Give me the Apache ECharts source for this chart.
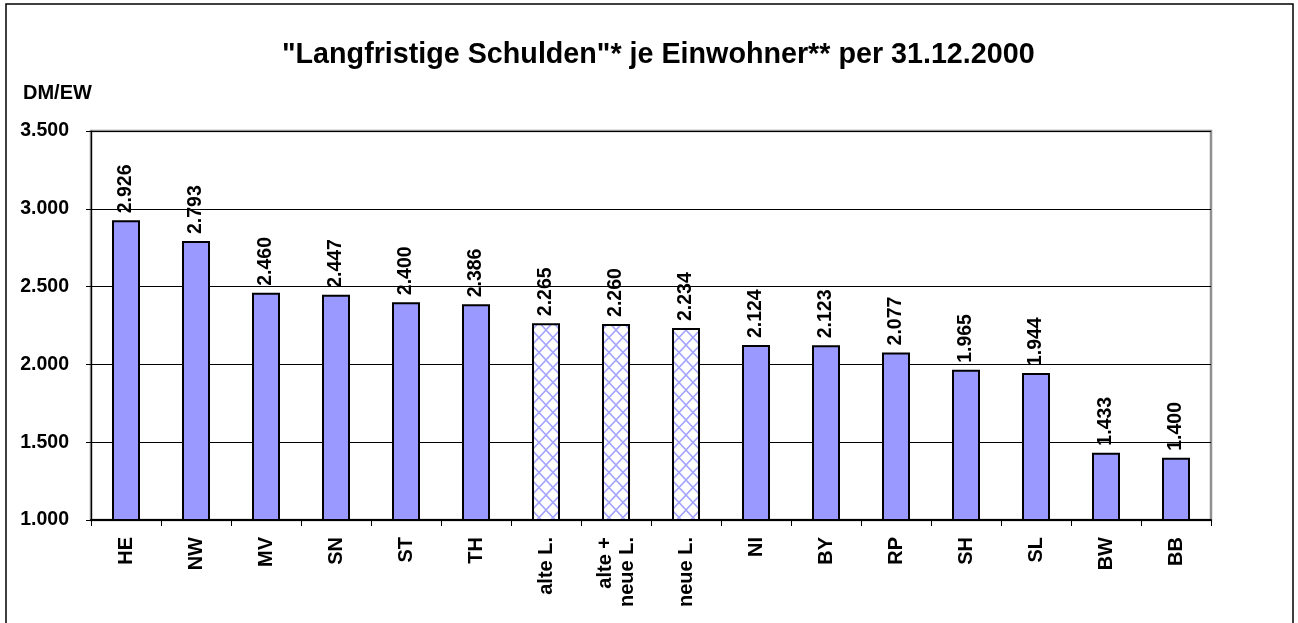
<!DOCTYPE html>
<html>
<head>
<meta charset="utf-8">
<script src="https://cdn.jsdelivr.net/npm/echarts@6/dist/echarts.min.js"></script>
<style>
  html, body { margin: 0; padding: 0; background: #fff; }
  #chart { width: 1298px; height: 623px; }
</style>
</head>
<body>
<div id="chart"></div>
<script>
// ---- data ----
const categories = ['HE', 'NW', 'MV', 'SN', 'ST', 'TH', 'alte L.', 'alte +\nneue L.', 'neue L.', 'NI', 'BY', 'RP', 'SH', 'SL', 'BW', 'BB'];
const values = [2926, 2793, 2460, 2447, 2400, 2386, 2265, 2260, 2234, 2124, 2123, 2077, 1965, 1944, 1433, 1400];
const aggregateCategories = ['alte L.', 'alte +\nneue L.', 'neue L.'];
const yTicks = [1000, 1500, 2000, 2500, 3000, 3500];
const titleText = '"Langfristige Schulden"* je Einwohner** per 31.12.2000';
const unitText = 'DM/EW';

function fmtDE(v) {
  return String(Math.round(v)).replace(/\B(?=(\d{3})+(?!\d))/g, '.');
}

// cross-hatch pattern for aggregate bars
function makeHatch() {
  const c = document.createElement('canvas');
  const w = 14, h = 15;
  c.width = w; c.height = h;
  const ctx = c.getContext('2d');
  ctx.fillStyle = '#ffffff';
  ctx.fillRect(0, 0, w, h);
  ctx.strokeStyle = '#a4a4ff';
  ctx.lineWidth = 1.6;
  ctx.beginPath();
  ctx.moveTo(-1, -1); ctx.lineTo(w + 1, h + 1);
  ctx.moveTo(w + 1, -1); ctx.lineTo(-1, h + 1);
  ctx.stroke();
  return c;
}
const hatch = makeHatch();

const barData = categories.map((c, i) => {
  const isAgg = aggregateCategories.indexOf(c) >= 0;
  return {
    value: values[i],
    itemStyle: isAgg ? { color: { image: hatch, repeat: 'repeat' } } : {}
  };
});

const chart = echarts.init(document.getElementById('chart'), null, { renderer: 'canvas' });
const FONT = 'Liberation Sans, Arial, sans-serif';

chart.setOption({
  animation: false,
  backgroundColor: '#ffffff',
  title: [
    {
      text: titleText,
      left: 277,
      top: 36,
      textStyle: { fontFamily: FONT, fontWeight: 'bold', fontSize: 28.7, color: '#000' }
    },
    {
      text: unitText,
      left: 18,
      top: 78,
      textStyle: { fontFamily: FONT, fontWeight: 'bold', fontSize: 20, color: '#000' }
    }
  ],
  grid: {
    left: 91, right: 87, top: 131, bottom: 103,
    show: true,
    borderColor: '#909090',
    borderWidth: 2.5,
    containLabel: false
  },
  xAxis: {
    type: 'category',
    data: categories,
    axisLine: { show: true, lineStyle: { color: '#000', width: 2 } },
    axisTick: { show: true, length: 6, lineStyle: { color: '#000', width: 1 } },
    axisLabel: {
      rotate: 90,
      margin: 17,
      interval: 0,
      fontFamily: FONT,
      fontWeight: 'bold',
      fontSize: 20,
      lineHeight: 22,
      color: '#000'
    },
    splitLine: { show: false }
  },
  yAxis: {
    type: 'value',
    min: yTicks[0],
    max: yTicks[yTicks.length - 1],
    interval: 500,
    axisLine: { show: true, lineStyle: { color: '#000', width: 1.2 } },
    axisTick: { show: true, length: 5, lineStyle: { color: '#000', width: 1 } },
    axisLabel: {
      margin: 22,
      fontFamily: FONT,
      fontWeight: 'bold',
      fontSize: 19.5,
      color: '#000',
      formatter: fmtDE
    },
    splitLine: { show: true, lineStyle: { color: '#000', width: 1 } }
  },
  series: [{
    type: 'bar',
    data: barData,
    barWidth: 28,
    itemStyle: { color: '#9999ff', borderColor: '#000', borderWidth: 2 },
    label: {
      show: true,
      position: 'top',
      rotate: 90,
      align: 'left',
      verticalAlign: 'middle',
      distance: 7,
      fontFamily: FONT,
      fontWeight: 'bold',
      fontSize: 19.5,
      color: '#000',
      formatter: p => fmtDE(p.value)
    }
  }],
  graphic: [{
    type: 'rect',
    silent: true,
    z: -1,
    shape: { x: 6, y: 4, width: 1287, height: 700 },
    style: { fill: 'none', stroke: '#000', lineWidth: 1.5 }
  }]
});
</script>
</body>
</html>
